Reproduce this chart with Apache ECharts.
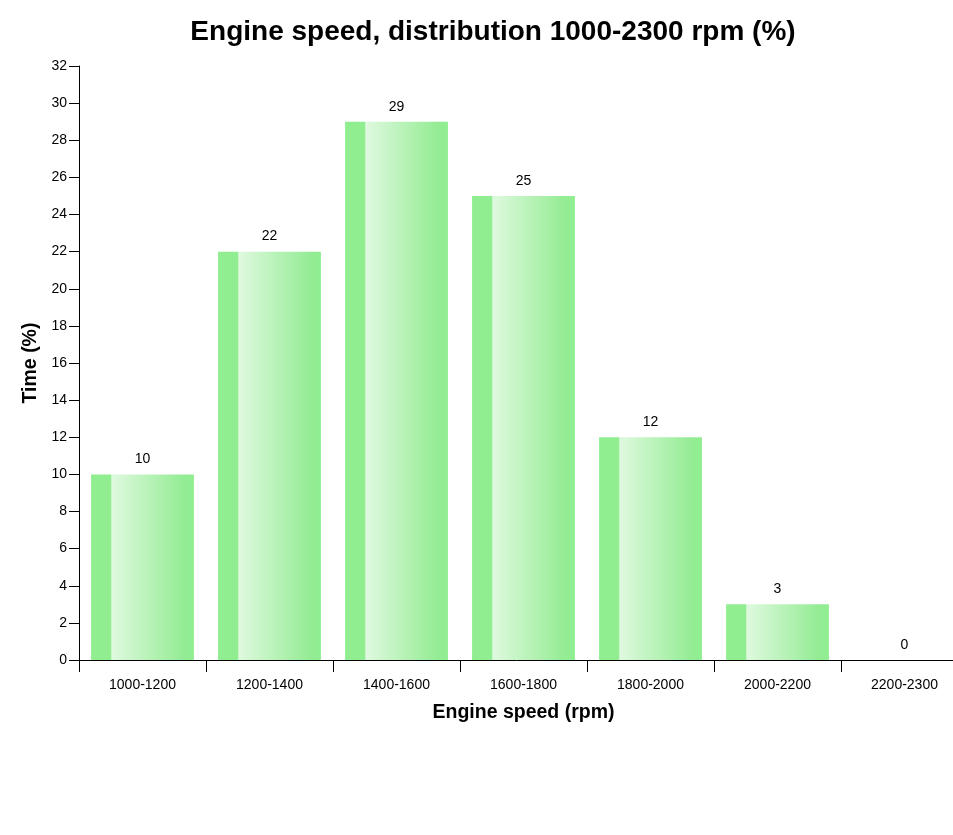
<!DOCTYPE html>
<html>
<head>
<meta charset="utf-8">
<script src="https://cdn.jsdelivr.net/npm/echarts@6/dist/echarts.min.js"></script>
<style>
  html, body { margin: 0; padding: 0; background: #fff; }
  #main { width: 953px; height: 835px; }
</style>
</head>
<body>
<div id="main"></div>
<script>
// data
var categories = ['1000-1200', '1200-1400', '1400-1600', '1600-1800', '1800-2000', '2000-2200', '2200-2300']
var timeShare = [10, 22, 29, 25, 12, 3, 0]

var barFill = new echarts.graphic.LinearGradient(0, 0, 1, 0, [
  { offset: 0, color: '#90ee90' },
  { offset: 0.195, color: '#90ee90' },
  { offset: 0.2, color: '#dff9df' },
  { offset: 0.9, color: '#94ec94' },
  { offset: 1, color: '#90ee90' }
])

var font = 'Arial, "Liberation Sans", sans-serif'

var option = {
  backgroundColor: '#fff',
  animation: false,
  title: {
    text: 'Engine speed, distribution 1000-2300 rpm (%)',
    left: 488,
    top: 13,
    textAlign: 'center',
    textStyle: { fontFamily: font, fontSize: 28, fontWeight: 'bold', color: '#000' }
  },
  grid: {
    left: 79,
    top: 66,
    width: 889,
    height: 594,
    outerBoundsMode: 'none',
    containLabel: false
  },
  xAxis: {
    type: 'category',
    data: categories,
    name: 'Engine speed (rpm)',
    nameLocation: 'middle',
    nameGap: 43,
    nameTextStyle: { fontFamily: font, fontSize: 19.5, fontWeight: 'bold', color: '#000' },
    axisLine: { lineStyle: { color: '#000', width: 1 } },
    axisTick: { show: true, length: 12, alignWithLabel: false, lineStyle: { color: '#000' } },
    axisLabel: { fontFamily: font, fontSize: 14, color: '#000', margin: 18 }
  },
  yAxis: {
    type: 'value',
    min: 0,
    max: 32,
    interval: 2,
    name: 'Time (%)',
    nameLocation: 'middle',
    nameGap: 32,
    nameTextStyle: { fontFamily: font, fontSize: 19.5, fontWeight: 'bold', color: '#000' },
    axisLine: { show: true, lineStyle: { color: '#000', width: 1 } },
    axisTick: { show: true, length: 10, lineStyle: { color: '#000' } },
    axisLabel: { fontFamily: font, fontSize: 14, color: '#000', margin: 12 },
    splitLine: { show: false }
  },
  series: [{
    type: 'bar',
    data: timeShare,
    barCategoryGap: '19%',
    itemStyle: { color: barFill },
    label: {
      show: true,
      position: 'top',
      distance: 8,
      fontFamily: font,
      fontSize: 14,
      color: '#000'
    }
  }]
}

var myChart = echarts.init(document.getElementById('main'))
myChart.setOption(option)
</script>
</body>
</html>
